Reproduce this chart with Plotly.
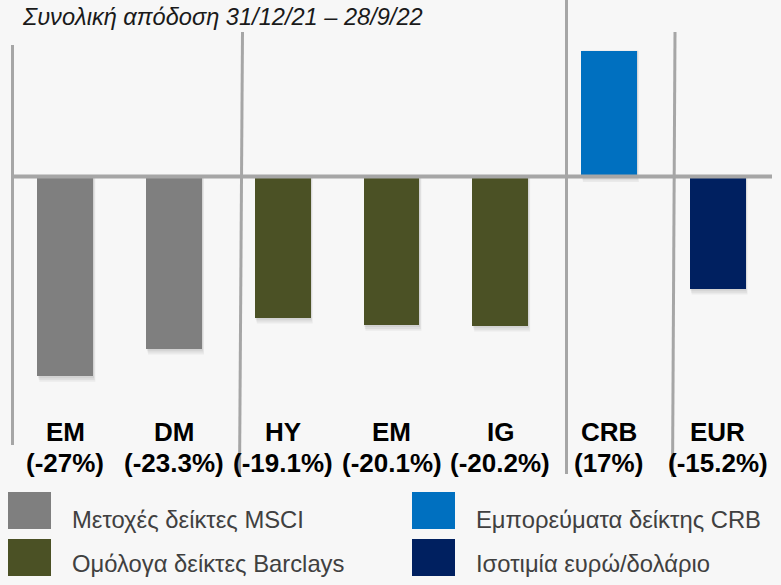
import plotly.graph_objects as go

# ---------------- data ----------------
categories = ["EM", "DM", "HY", "EM", "IG", "CRB", "EUR"]
values = [-27.0, -23.3, -19.1, -20.1, -20.2, 17.0, -15.2]
value_labels = ["(-27%)", "(-23.3%)", "(-19.1%)", "(-20.1%)", "(-20.2%)", "(17%)", "(-15.2%)"]
groups = [0, 0, 1, 1, 1, 2, 3]
group_names = ["Μετοχές δείκτες MSCI", "Ομόλογα δείκτες Barclays",
               "Εμπορεύματα δείκτης CRB", "Ισοτιμία ευρώ/δολάριο"]
group_colors = ["#7f7f7f", "#4b5125", "#0070c0", "#002060"]
title_text = "Συνολική απόδοση 31/12/21 – 28/9/22"

# ---------------- layout geometry ----------------
W, H = 781, 585
ML, MR, MT, MB = 11, 9, 30, 105
PW, PH = W - ML - MR, H - MT - MB
ZERO_PX, PX_PER_UNIT = 176.5, 7.4
y_top = (ZERO_PX - MT) / PX_PER_UNIT
y_bot = (ZERO_PX - (H - MB)) / PX_PER_UNIT


def px_x(p):
    return (p - ML) / PW


def px_y(p):
    return ((H - MB) - p) / PH


xs = list(range(len(categories)))
BAR_W = 0.515
bar_colors = [group_colors[g] for g in groups]

fig = go.Figure()
fig.add_trace(go.Bar(
    x=xs, y=values, width=BAR_W, marker=dict(color=bar_colors, line=dict(width=0)),
    showlegend=False, hoverinfo="skip"))

shapes = []
# soft drop shadows (derived from data)
for i, v in zip(xs, values):
    for k, a in enumerate([0.05, 0.05, 0.05]):
        dx = 0.006 * (k + 1)
        dy = 0.25 * (k + 1)
        y1 = v - dy if v < 0 else v
        y0 = 0 if v < 0 else -dy
        shapes.append(dict(type="rect", xref="x", yref="y", layer="below",
                           x0=i - BAR_W / 2 + dx, x1=i + BAR_W / 2 + dx,
                           y0=y0, y1=y1, line=dict(width=0),
                           fillcolor=f"rgba(0,0,0,{a})"))

SEP = "#a6a6a6"
# vertical separators (pixel geometry)
for (xt, yt, xb, yb) in [(12.5, 45, 12.5, 445), (242.5, 32, 239.5, 477),
                         (566.5, 0, 566.5, 474), (675, 32, 672.5, 477)]:
    shapes.append(dict(type="line", xref="paper", yref="paper", layer="above",
                       x0=px_x(xt), y0=px_y(yt), x1=px_x(xb), y1=px_y(yb),
                       line=dict(color=SEP, width=3)))
# zero line
shapes.append(dict(type="line", xref="paper", yref="y", layer="above",
                   x0=px_x(12), x1=px_x(772), y0=0, y1=0,
                   line=dict(color=SEP, width=4)))

# legend squares
legend_pos = [(8, 492), (8, 539), (412, 492), (412, 539)]
for (lx, ly), col in zip(legend_pos, group_colors):
    shapes.append(dict(type="rect", xref="paper", yref="paper",
                       x0=px_x(lx), x1=px_x(lx + 43), y0=px_y(ly), y1=px_y(ly + 37),
                       line=dict(width=0), fillcolor=col))

annotations = []
LBL_FONT = dict(family="Liberation Sans, Arial, sans-serif", size=26, color="#000000")
for i, (c, lab) in enumerate(zip(categories, value_labels)):
    annotations.append(dict(x=i, y=px_y(432), xref="x", yref="paper", text=f"<b>{c}</b>",
                            showarrow=False, xanchor="center", yanchor="middle", font=LBL_FONT))
    annotations.append(dict(x=i, y=px_y(463), xref="x", yref="paper", text=f"<b>{lab}</b>",
                            showarrow=False, xanchor="center", yanchor="middle", font=LBL_FONT))

text_pos = [(70, 519), (70, 563), (474, 519), (474, 563)]
for (tx, ty), name in zip(text_pos, group_names):
    annotations.append(dict(x=px_x(tx), y=px_y(ty), xref="paper", yref="paper", text=name,
                            showarrow=False, xanchor="left", yanchor="middle",
                            font=dict(family="Liberation Sans, Arial, sans-serif", size=23.8,
                                      color="#404040")))

annotations.append(dict(x=px_x(20), y=px_y(17), xref="paper", yref="paper",
                        text=f"<i>{title_text}</i>", showarrow=False,
                        xanchor="left", yanchor="middle",
                        font=dict(family="Liberation Sans, Arial, sans-serif", size=23.6,
                                  color="#1a1a1a")))

fig.update_layout(
    width=W, height=H,
    margin=dict(l=ML, r=MR, t=MT, b=MB, pad=0),
    paper_bgcolor="#f7f7f7", plot_bgcolor="rgba(0,0,0,0)",
    xaxis=dict(range=[-0.5, len(categories) - 0.5], visible=False, fixedrange=True),
    yaxis=dict(range=[y_bot, y_top], visible=False, fixedrange=True, zeroline=False),
    shapes=shapes, annotations=annotations, bargap=0, showlegend=False,
)

fig.write_html("out.html", config={"displayModeBar": False},
               post_script="document.body.style.margin='0';document.body.style.overflow='hidden';")
